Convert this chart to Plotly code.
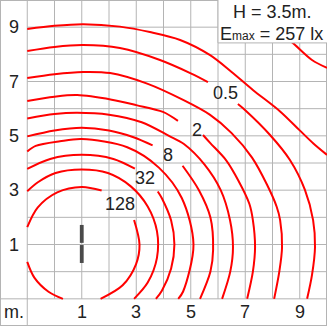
import plotly.graph_objects as go

# ---------------- data (metres) ----------------
x_tick_values = [1, 3, 5, 7, 9]
x_tick_labels = ["1", "3", "5", "7", "9"]
y_tick_values = [9, 7, 5, 3, 1]
y_tick_labels = ["9", "7", "5", "3", "1"]
unit_label = "m."

mounting_height = "H = 3.5m."
emax_lux = 257

# isolux curves (x, y); None = gap where a value label sits
iso_0125_x = [8.2, 8.72, 9.45, 10.0]
iso_0125_y = [8.85, 8.44, 7.79, 7.5]

iso_025_x = [-1.0, 0.0, 1.05, 2.4, 3.5, 4.61, 5.71, 6.5, 7.28, 8.28, 9.0, 9.5, 10.0]
iso_025_y = [8.93, 9.05, 9.11, 9.02, 8.82, 8.53, 7.97, 7.35, 6.69, 5.9, 5.2, 4.72, 4.3]

iso_05_x = [-1.0, 0.0, 1.05, 2.4, 3.87, 5.0, 5.63, None, 6.73, 6.99, 7.91, 8.64, 9.19, 9.49, 9.56, 9.45, 9.27]
iso_05_y = [8.12, 8.27, 8.34, 8.23, 7.79, 7.3, 6.98, None, 6.17, 5.95, 5.03, 4.11, 3.01, 1.9, 0.91, -0.12, -1.0]

iso_1_x = [-1.0, 0.0, 1.05, 2.04, 3.4, 4.72, 5.71, 6.5, 7.25, 7.8, 8.15, 8.28, 8.35, 8.25, 8.06]
iso_1_y = [7.13, 7.27, 7.35, 7.31, 6.92, 6.32, 5.77, 5.1, 4.2, 3.2, 2.4, 1.9, 0.9, 0.0, -1.0]

iso_2_x = [-1.0, 0.0, 0.83, 2.1, 3.0, 3.98, 4.53, None, 5.45, 5.71, 6.3, 6.75, 7.15, 7.28, 7.36, 7.28, 7.07]
iso_2_y = [6.28, 6.44, 6.5, 6.33, 6.13, 5.88, 5.55, None, 5.03, 4.74, 4.1, 3.35, 2.5, 1.9, 0.91, 0.0, -1.0]

iso_4_x = [-1.0, 0.0, 0.8, 2.0, 3.2, 4.2, 4.75, 5.5, 6.1, 6.44, 6.55, 6.45, 6.15]
iso_4_y = [5.64, 5.8, 5.85, 5.78, 5.5, 5.0, 4.7, 3.95, 3.0, 1.9, 0.91, 0.0, -1.0]

iso_8_x = [-1.0, 0.0, 1.0, 2.0, 2.9, 3.6, None, 4.7, 5.3, 5.72, 5.82, 5.72, 5.34]
iso_8_y = [4.98, 5.2, 5.3, 5.2, 4.95, 4.65, None, 3.9, 3.0, 2.0, 0.8, 0.0, -1.0]

iso_16_x = [-1.0, -0.69, 0.2, 1.0, 2.67, 3.83, 4.67, 5.1, 4.72, 4.54]
iso_16_y = [4.42, 4.63, 4.8, 4.88, 4.58, 3.83, 2.71, 1.0, -0.73, -1.0]

iso_32_x = [-1.0, -0.16, 1.0, 2.16, 2.95, None, 3.79, 3.94, 4.28, 4.4, 4.28, 3.94, 3.72]
iso_32_y = [3.78, 4.15, 4.3, 4.15, 3.79, None, 2.95, 2.7, 1.88, 1.0, 0.12, -0.7, -1.0]

iso_64_x = [-1.0, -0.61, 0.04, 1.0, 1.96, 2.8, 3.42, 3.76, 3.76, 3.42, 2.92]
iso_64_y = [2.96, 3.29, 3.63, 3.76, 3.63, 3.14, 2.4, 1.49, 0.51, -0.4, -1.0]

iso_128_x = [-1.0, -0.62, 0.1, 1.0, 1.73, None, 2.92, 3.12, 2.99, 2.5, 1.69, None,
             -1.0, -0.74, -0.22, 0.31]
iso_128_y = [1.64, 2.36, 2.92, 3.12, 2.99, None, 1.9, 1.0, 0.27, -0.5, -1.0, None,
             0.36, -0.22, -0.74, -1.0]

curve_labels = ["0.5", "2", "8", "32", "128"]
curve_label_x = [6.26, 5.23, 4.17, 3.32, 2.40]
curve_label_y = [6.58, 5.21, 4.29, 3.45, 2.49]

# ---------------- figure ----------------
RED = "#ff0000"
GRID = "#b4b4b4"
TXT = "#222222"
FONT = "Liberation Sans, Arial, sans-serif"

fig = go.Figure()

curves = [
    (iso_0125_x, iso_0125_y), (iso_025_x, iso_025_y), (iso_05_x, iso_05_y),
    (iso_1_x, iso_1_y), (iso_2_x, iso_2_y), (iso_4_x, iso_4_y),
    (iso_8_x, iso_8_y), (iso_16_x, iso_16_y), (iso_32_x, iso_32_y),
    (iso_64_x, iso_64_y), (iso_128_x, iso_128_y),
]
for cx, cy in curves:
    fig.add_trace(go.Scatter(
        x=cx, y=cy, mode="lines",
        line=dict(color=RED, width=2, shape="spline", smoothing=0.9),
        connectgaps=False, hoverinfo="skip", showlegend=False,
    ))

shapes = []
# grid
for k in range(-1, 10):
    shapes.append(dict(type="line", x0=k, x1=k, y0=(-2 if k == -1 else -1), y1=10,
                       line=dict(color=GRID, width=1), layer="below"))
    shapes.append(dict(type="line", y0=k, y1=k, x0=(-2 if k == -1 else -1), x1=10,
                       line=dict(color=GRID, width=1), layer="below"))
# outer frame
shapes.append(dict(type="rect", x0=-2, x1=10, y0=-2, y1=10,
                   line=dict(color=GRID, width=2), layer="below"))
# info box
shapes.append(dict(type="rect", x0=6, x1=10.2, y0=8.42, y1=10.2,
                   fillcolor="white", line=dict(color=GRID, width=1), layer="above"))
# luminaire
shapes.append(dict(type="rect", x0=0.93, x1=1.07, y0=1.06, y1=1.72,
                   fillcolor="#4a4a4a", line=dict(width=0), layer="above"))
shapes.append(dict(type="rect", x0=0.93, x1=1.07, y0=0.32, y1=0.98,
                   fillcolor="#4a4a4a", line=dict(width=0), layer="above"))

annotations = []
for v, t in zip(y_tick_values, y_tick_labels):
    annotations.append(dict(x=-1.5, y=v, text=t, showarrow=False,
                            font=dict(family=FONT, size=18, color=TXT)))
for v, t in zip(x_tick_values, x_tick_labels):
    annotations.append(dict(x=v, y=-1.5, text=t, showarrow=False,
                            font=dict(family=FONT, size=18, color=TXT)))
annotations.append(dict(x=-1.5, y=-1.5, text=unit_label, showarrow=False,
                        font=dict(family=FONT, size=18, color=TXT)))
for t, lx, ly in zip(curve_labels, curve_label_x, curve_label_y):
    annotations.append(dict(x=lx, y=ly, text=t, showarrow=False,
                            font=dict(family=FONT, size=18, color=TXT)))
annotations.append(dict(x=8.0, y=9.55, text=mounting_height, showarrow=False,
                        font=dict(family=FONT, size=18, color=TXT)))
annotations.append(dict(x=7.95, y=8.74,
                        text="E<span style='font-size:12px'>max</span> = %d lx" % emax_lux,
                        showarrow=False, font=dict(family=FONT, size=18, color=TXT)))

fig.update_layout(
    width=327, height=326,
    margin=dict(l=0, r=0, t=0, b=0, pad=0),
    paper_bgcolor="white", plot_bgcolor="white",
    xaxis=dict(range=[-2, 10], visible=False, fixedrange=True),
    yaxis=dict(range=[-2, 10], visible=False, fixedrange=True),
    shapes=shapes, annotations=annotations,
    showlegend=False,
)

fig.write_html("out.html")
